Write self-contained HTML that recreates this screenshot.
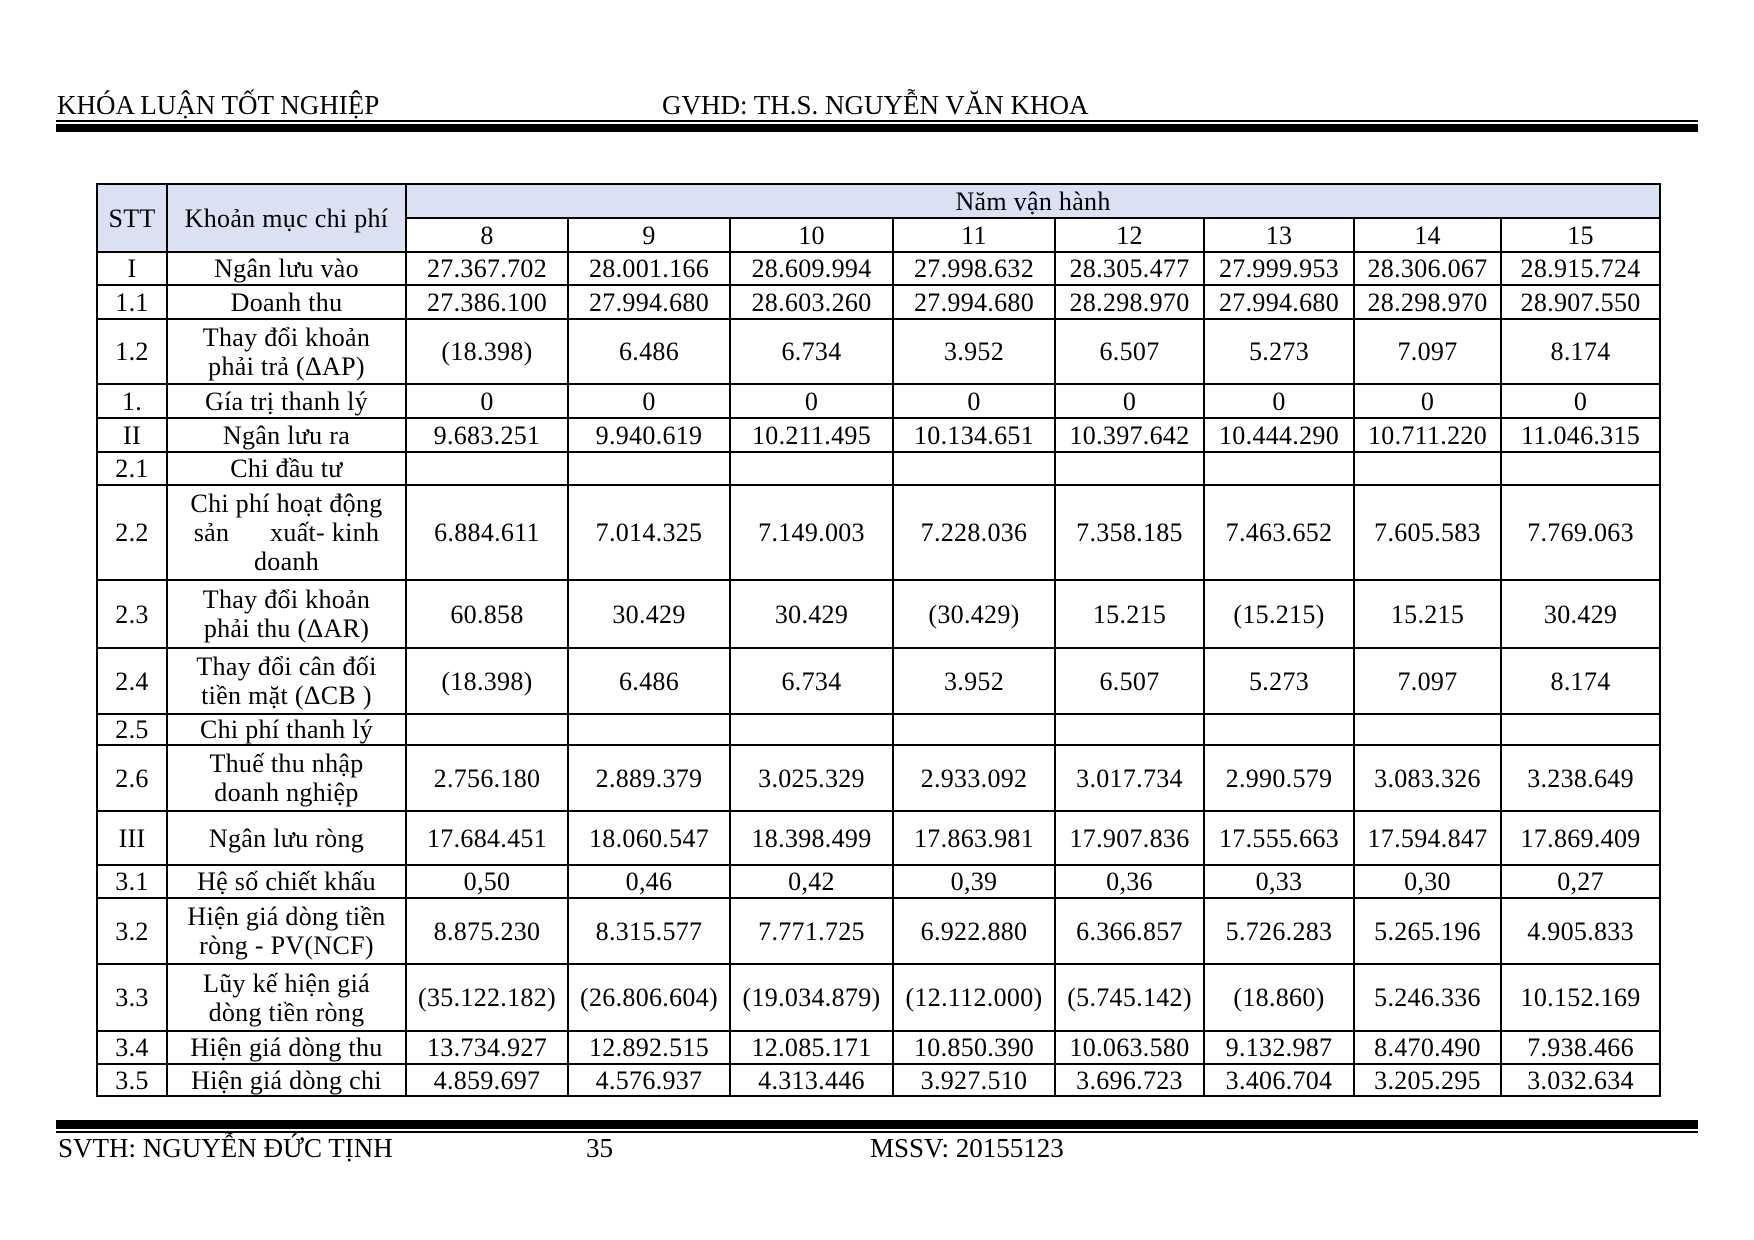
<!DOCTYPE html>
<html><head><meta charset="utf-8">
<style>
body{margin:0;width:1754px;height:1240px;background:#fff;position:relative;font-family:"Liberation Serif","Times New Roman",serif;color:#000;overflow:hidden}
.t{position:absolute;font-family:"Liberation Serif",serif;font-size:27px;white-space:nowrap;line-height:1}
.r{position:absolute;left:56px;width:1642px;background:#000}
table{position:absolute;left:96px;top:183px;width:1563px;border-collapse:collapse;table-layout:fixed}
td{font-family:"Liberation Serif",serif;font-size:26px;letter-spacing:0.3px;border:2px solid #000;text-align:center;vertical-align:middle;padding:0;line-height:29px;white-space:nowrap}
.h{background:#D9E1F2}
</style></head><body>
<div class="t" style="left:57px;top:92px">KHÓA LUẬN TỐT NGHIỆP</div>
<div class="t" style="left:662px;top:92px">GVHD: TH.S. NGUYỄN VĂN KHOA</div>
<div class="r" style="top:120px;height:2px"></div>
<div class="r" style="top:124px;height:8px"></div>

<table>
<colgroup><col style="width:70px"><col style="width:239px"><col style="width:162px"><col style="width:162px"><col style="width:163px"><col style="width:162px"><col style="width:149px"><col style="width:150px"><col style="width:147px"><col style="width:159px"></colgroup>
<tr style="height:34px"><td class="h" rowspan="2">STT</td><td class="h" rowspan="2">Khoản mục chi phí</td><td class="h" colspan="8">Năm vận hành</td></tr>
<tr style="height:34px"><td>8</td><td>9</td><td>10</td><td>11</td><td>12</td><td>13</td><td>14</td><td>15</td></tr>
<tr style="height:33px"><td>I</td><td>Ngân lưu vào</td><td>27.367.702</td><td>28.001.166</td><td>28.609.994</td><td>27.998.632</td><td>28.305.477</td><td>27.999.953</td><td>28.306.067</td><td>28.915.724</td></tr>
<tr style="height:34px"><td>1.1</td><td>Doanh thu</td><td>27.386.100</td><td>27.994.680</td><td>28.603.260</td><td>27.994.680</td><td>28.298.970</td><td>27.994.680</td><td>28.298.970</td><td>28.907.550</td></tr>
<tr style="height:65px"><td>1.2</td><td>Thay đổi khoản<br>phải trả (ΔAP)</td><td>(18.398)</td><td>6.486</td><td>6.734</td><td>3.952</td><td>6.507</td><td>5.273</td><td>7.097</td><td>8.174</td></tr>
<tr style="height:34px"><td>1.</td><td>Gía trị thanh lý</td><td>0</td><td>0</td><td>0</td><td>0</td><td>0</td><td>0</td><td>0</td><td>0</td></tr>
<tr style="height:34px"><td>II</td><td>Ngân lưu ra</td><td>9.683.251</td><td>9.940.619</td><td>10.211.495</td><td>10.134.651</td><td>10.397.642</td><td>10.444.290</td><td>10.711.220</td><td>11.046.315</td></tr>
<tr style="height:33px"><td>2.1</td><td>Chi đầu tư</td><td></td><td></td><td></td><td></td><td></td><td></td><td></td><td></td></tr>
<tr style="height:95px"><td>2.2</td><td>Chi phí hoạt động<br>sản&nbsp;&nbsp;&nbsp;&nbsp;&nbsp;&nbsp;xuất- kinh<br>doanh</td><td>6.884.611</td><td>7.014.325</td><td>7.149.003</td><td>7.228.036</td><td>7.358.185</td><td>7.463.652</td><td>7.605.583</td><td>7.769.063</td></tr>
<tr style="height:68px"><td>2.3</td><td>Thay đổi khoản<br>phải thu (ΔAR)</td><td>60.858</td><td>30.429</td><td>30.429</td><td>(30.429)</td><td>15.215</td><td>(15.215)</td><td>15.215</td><td>30.429</td></tr>
<tr style="height:66px"><td>2.4</td><td>Thay đổi cân đối<br>tiền mặt (ΔCB )</td><td>(18.398)</td><td>6.486</td><td>6.734</td><td>3.952</td><td>6.507</td><td>5.273</td><td>7.097</td><td>8.174</td></tr>
<tr style="height:31px"><td>2.5</td><td>Chi phí thanh lý</td><td></td><td></td><td></td><td></td><td></td><td></td><td></td><td></td></tr>
<tr style="height:66px"><td>2.6</td><td>Thuế thu nhập<br>doanh nghiệp</td><td>2.756.180</td><td>2.889.379</td><td>3.025.329</td><td>2.933.092</td><td>3.017.734</td><td>2.990.579</td><td>3.083.326</td><td>3.238.649</td></tr>
<tr style="height:54px"><td>III</td><td>Ngân lưu ròng</td><td>17.684.451</td><td>18.060.547</td><td>18.398.499</td><td>17.863.981</td><td>17.907.836</td><td>17.555.663</td><td>17.594.847</td><td>17.869.409</td></tr>
<tr style="height:33px"><td>3.1</td><td>Hệ số chiết khấu</td><td>0,50</td><td>0,46</td><td>0,42</td><td>0,39</td><td>0,36</td><td>0,33</td><td>0,30</td><td>0,27</td></tr>
<tr style="height:66px"><td>3.2</td><td>Hiện giá dòng tiền<br>ròng - PV(NCF)</td><td>8.875.230</td><td>8.315.577</td><td>7.771.725</td><td>6.922.880</td><td>6.366.857</td><td>5.726.283</td><td>5.265.196</td><td>4.905.833</td></tr>
<tr style="height:67px"><td>3.3</td><td>Lũy kế hiện giá<br>dòng tiền ròng</td><td>(35.122.182)</td><td>(26.806.604)</td><td>(19.034.879)</td><td>(12.112.000)</td><td>(5.745.142)</td><td>(18.860)</td><td>5.246.336</td><td>10.152.169</td></tr>
<tr style="height:33px"><td>3.4</td><td>Hiện giá dòng thu</td><td>13.734.927</td><td>12.892.515</td><td>12.085.171</td><td>10.850.390</td><td>10.063.580</td><td>9.132.987</td><td>8.470.490</td><td>7.938.466</td></tr>
<tr style="height:32px"><td>3.5</td><td>Hiện giá dòng chi</td><td>4.859.697</td><td>4.576.937</td><td>4.313.446</td><td>3.927.510</td><td>3.696.723</td><td>3.406.704</td><td>3.205.295</td><td>3.032.634</td></tr>
</table>

<div class="r" style="top:1120px;height:9px"></div>
<div class="r" style="top:1131px;height:2px"></div>
<div class="t" style="left:58px;top:1135px">SVTH: NGUYỄN ĐỨC TỊNH</div>
<div class="t" style="left:586px;top:1135px">35</div>
<div class="t" style="left:870px;top:1135px">MSSV: 20155123</div>
</body></html>
